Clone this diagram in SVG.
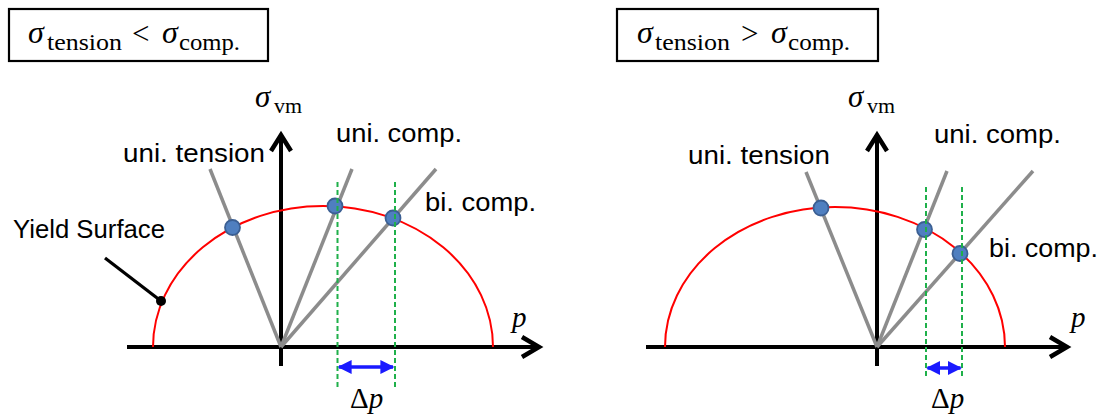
<svg xmlns="http://www.w3.org/2000/svg" width="1105" height="417" viewBox="0 0 1105 417">
<defs>
<style>
.box{fill:#fff;stroke:#000;stroke-width:2.2}
.m{font-family:"Liberation Serif","DejaVu Serif",serif;fill:#000}
.it{font-style:italic}
.lbl{font-family:"Liberation Sans","Open Sans",sans-serif;font-size:25px;fill:#000}
.axis{stroke:#000;stroke-width:4;fill:none}
.chev{stroke:#000;stroke-width:4.5;fill:none;stroke-linejoin:miter;stroke-linecap:butt}
.ray{stroke:#8c8c8c;stroke-width:3.5;fill:none;stroke-linecap:butt}
.yield{stroke:#ff0000;stroke-width:2;fill:none}
.dot{fill:#4f7fc0;stroke:#3b5f93;stroke-width:1.8}
.guide{stroke:#1fb04a;stroke-width:2;stroke-dasharray:5,3;fill:none}
.delta{stroke:#1a1aff;stroke-width:3.5;fill:none;marker-start:url(#bh);marker-end:url(#bh)}
</style>
<marker id="bh" viewBox="0 0 10 10" refX="9" refY="5" markerWidth="4" markerHeight="4.2" orient="auto-start-reverse" markerUnits="strokeWidth">
<path d="M0,0 L10,5 L0,10 Z" fill="#1a1aff"/>
</marker>
</defs>

<g id="title-left">
<rect class="box" x="9" y="9" width="259" height="52"/>
<text class="m it" x="28" y="43" font-size="32">σ</text>
<text class="m" x="47" y="50" font-size="24" textLength="75" lengthAdjust="spacingAndGlyphs">tension</text>
<text class="m" x="132" y="44" font-size="31">&lt;</text>
<text class="m it" x="162" y="43" font-size="32">σ</text>
<text class="m" x="179" y="50" font-size="24" textLength="61" lengthAdjust="spacingAndGlyphs">comp.</text>
</g>

<g id="title-right">
<rect class="box" x="617" y="9" width="261" height="52"/>
<text class="m it" x="637" y="43" font-size="32">σ</text>
<text class="m" x="655" y="50" font-size="24" textLength="75" lengthAdjust="spacingAndGlyphs">tension</text>
<text class="m" x="741" y="44" font-size="31">&gt;</text>
<text class="m it" x="771" y="43" font-size="32">σ</text>
<text class="m" x="788" y="50" font-size="24" textLength="62" lengthAdjust="spacingAndGlyphs">comp.</text>
</g>

<g id="left-axes">
<line class="axis" x1="127" y1="347" x2="538" y2="347"/>
<polyline class="chev" points="522,337 539,347 522,357"/>
<line class="axis" x1="281" y1="366" x2="281" y2="137"/>
<polyline class="chev" points="271,151 281,135 291,151"/>
<text class="m it" x="255" y="107" font-size="31">σ</text>
<text class="m" x="274" y="113" font-size="21" textLength="28" lengthAdjust="spacingAndGlyphs">vm</text>
<text class="m it" x="512" y="327" font-size="29">p</text>
</g>

<g id="left-yield-surface">
<path class="yield" d="M153,347 A170,141 0 0 1 493,347"/>
</g>

<g id="left-rays">
<line class="ray" x1="281" y1="347" x2="210" y2="169"/>
<line class="ray" x1="281" y1="347" x2="352" y2="169"/>
<line class="ray" x1="281" y1="347" x2="436" y2="169"/>
</g>

<g id="left-points">
<circle class="dot" cx="232.5" cy="227.5" r="7.5"/>
<circle class="dot" cx="335" cy="206" r="7.5"/>
<circle class="dot" cx="393" cy="218" r="7.5"/>
</g>

<g id="left-labels">
<text class="lbl" x="123" y="162" textLength="142" lengthAdjust="spacingAndGlyphs">uni. tension</text>
<text class="lbl" x="336" y="142" textLength="126" lengthAdjust="spacingAndGlyphs">uni. comp.</text>
<text class="lbl" x="425" y="211" textLength="111" lengthAdjust="spacingAndGlyphs">bi. comp.</text>
<text class="lbl" x="13" y="238" textLength="152" lengthAdjust="spacingAndGlyphs">Yield Surface</text>
</g>

<g id="left-leader">
<line x1="105" y1="258" x2="161" y2="301" stroke="#000" stroke-width="3.2"/>
<circle cx="161" cy="301" r="5" fill="#000"/>
</g>

<g id="left-delta">
<line class="guide" x1="337.5" y1="182" x2="337.5" y2="390"/>
<line class="guide" x1="395" y1="182" x2="395" y2="390"/>
<line class="delta" x1="339" y1="367" x2="393" y2="367"/>
<text class="m" x="350" y="408" font-size="29">Δ<tspan class="it">p</tspan></text>
</g>

<g id="right-axes">
<line class="axis" x1="646" y1="347" x2="1066" y2="347"/>
<polyline class="chev" points="1050,337 1067,347 1050,357"/>
<line class="axis" x1="877" y1="366" x2="877" y2="137"/>
<polyline class="chev" points="867,151 877,135 887,151"/>
<text class="m it" x="848" y="107" font-size="31">σ</text>
<text class="m" x="867" y="113" font-size="21" textLength="28" lengthAdjust="spacingAndGlyphs">vm</text>
<text class="m it" x="1071" y="327" font-size="29">p</text>
</g>

<g id="right-yield-surface">
<path class="yield" d="M665,347 A170,140 0 0 1 1005,347"/>
</g>

<g id="right-rays">
<line class="ray" x1="877" y1="347" x2="806" y2="172"/>
<line class="ray" x1="877" y1="347" x2="947" y2="171"/>
<line class="ray" x1="877" y1="347" x2="1033" y2="171"/>
</g>

<g id="right-points">
<circle class="dot" cx="821" cy="208" r="7.5"/>
<circle class="dot" cx="924.5" cy="229.5" r="7.5"/>
<circle class="dot" cx="960" cy="253.5" r="7.5"/>
</g>

<g id="right-labels">
<text class="lbl" x="688" y="164" textLength="142" lengthAdjust="spacingAndGlyphs">uni. tension</text>
<text class="lbl" x="934" y="143" textLength="127" lengthAdjust="spacingAndGlyphs">uni. comp.</text>
<text class="lbl" x="989" y="257" textLength="109" lengthAdjust="spacingAndGlyphs">bi. comp.</text>
</g>

<g id="right-delta">
<line class="guide" x1="926" y1="187" x2="926" y2="376"/>
<line class="guide" x1="962" y1="187" x2="962" y2="376"/>
<line class="delta" x1="927.5" y1="368" x2="960.5" y2="368"/>
<text class="m" x="931" y="408" font-size="29">Δ<tspan class="it">p</tspan></text>
</g>
</svg>
